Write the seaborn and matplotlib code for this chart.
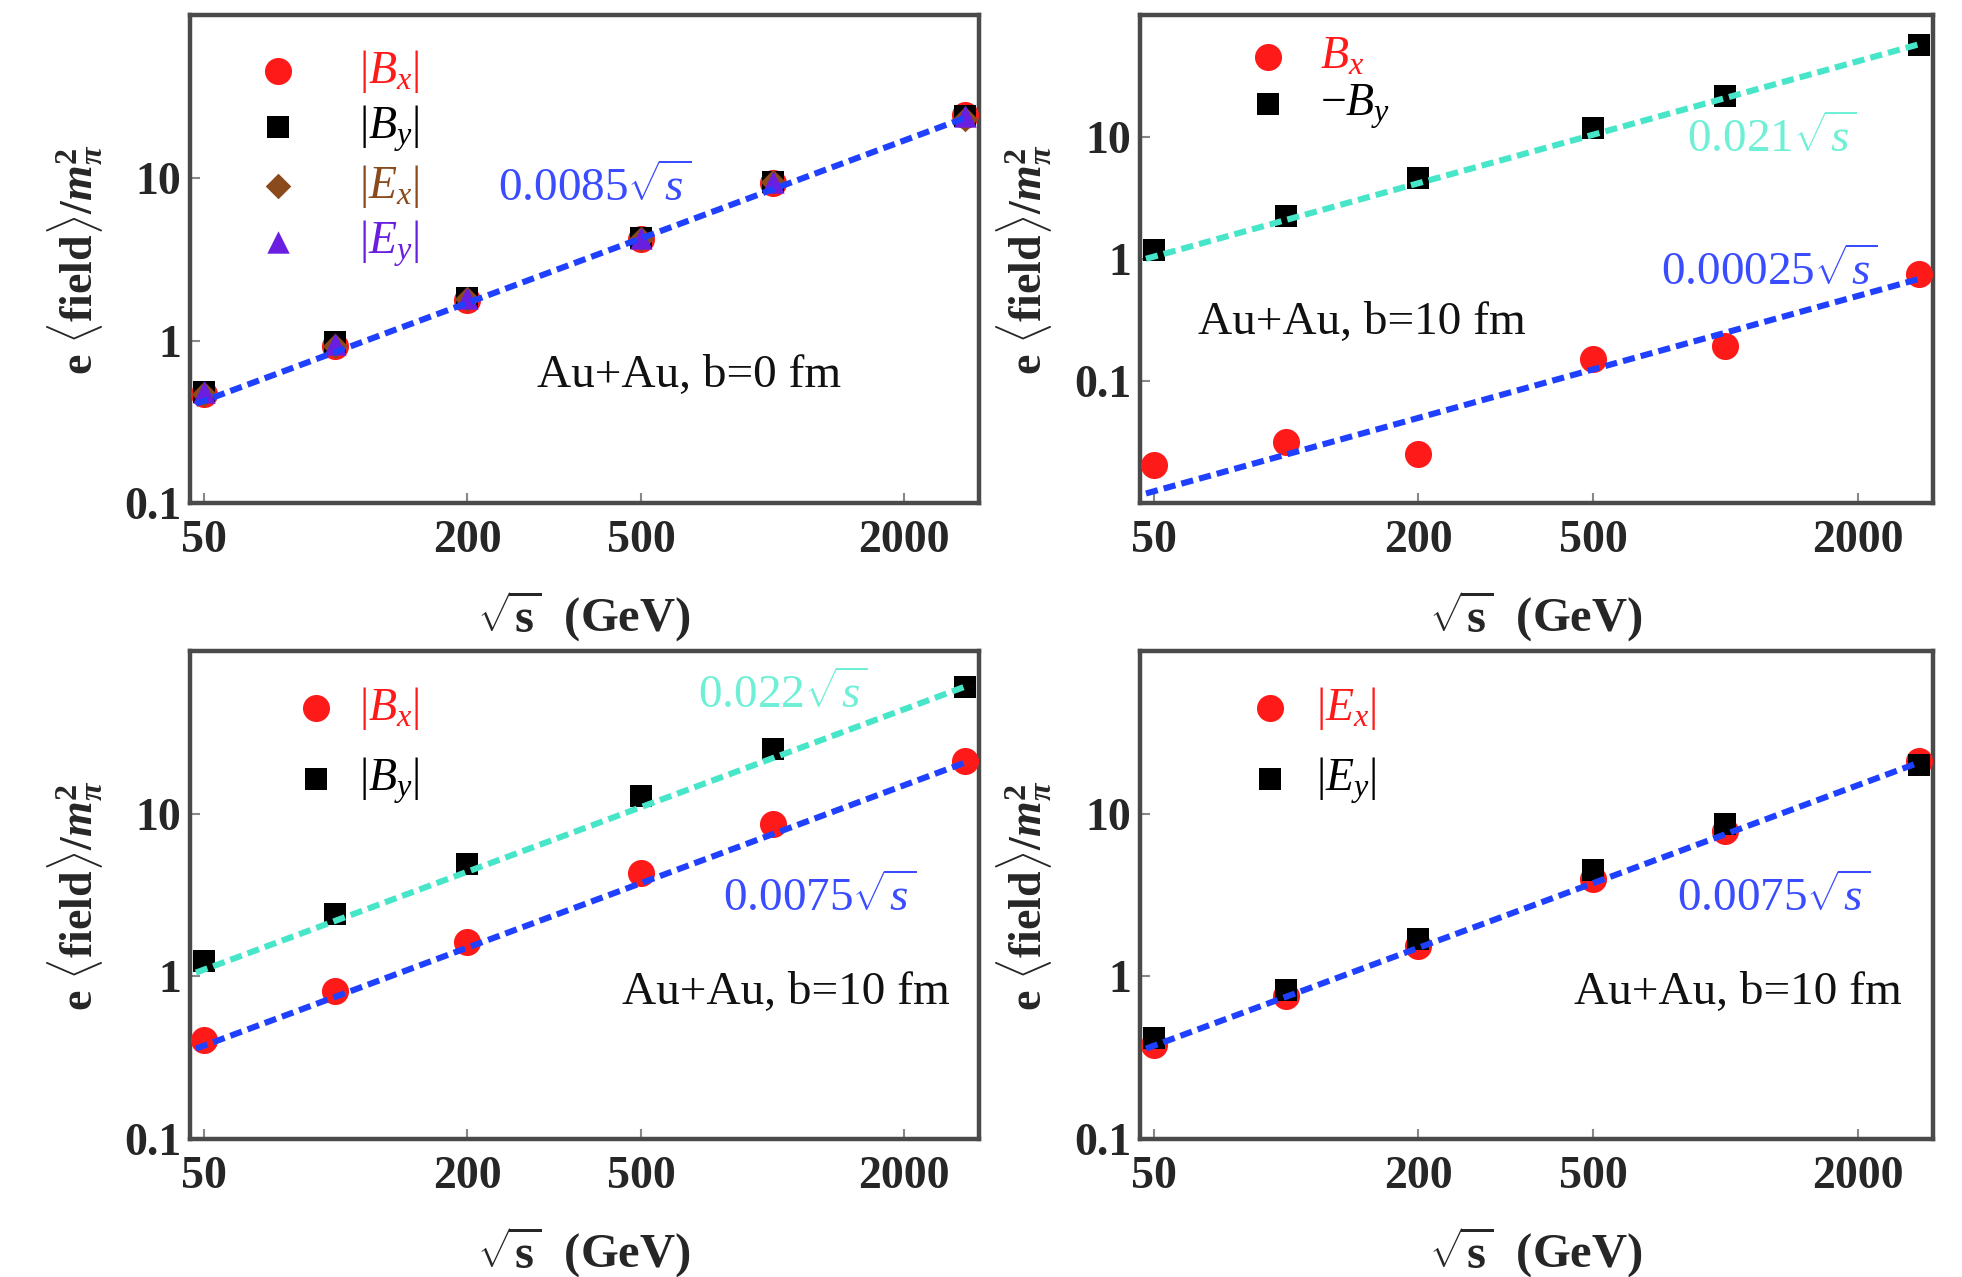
import matplotlib
matplotlib.use("Agg")
import matplotlib.pyplot as plt
import matplotlib.ticker as mticker
import seaborn as sns
import pandas as pd

# collision energies sqrt(s) (GeV)
sqrt_s = [50, 100, 200, 500, 1000, 2760]
fit_range = [48, 2760]

# panel (a) Au+Au b=0
a_bx = [0.47, 0.92, 1.78, 4.2, 9.3, 24.5]
a_by = [0.48, 0.98, 1.82, 4.3, 9.5, 24.0]
a_ex = [0.47, 0.93, 1.80, 4.2, 9.4, 23.0]
a_ey = [0.48, 0.95, 1.82, 4.3, 9.5, 24.0]
a_coef = 0.0085

# panel (b) Au+Au b=10, signed fields
b_bx = [0.0205, 0.032, 0.0254, 0.153, 0.194, 0.75]
b_by = [1.18, 2.28, 4.6, 11.9, 22.0, 57.0]
b_coef_by = 0.021
b_coef_bx = 0.00025

# panel (c) Au+Au b=10, |B|
c_bx = [0.405, 0.81, 1.64, 4.35, 8.7, 21.0]
c_by = [1.24, 2.42, 4.9, 12.8, 25.0, 60.0]
c_coef_by = 0.022
c_coef_bx = 0.0075

# panel (d) Au+Au b=10, |E|
d_ex = [0.38, 0.76, 1.55, 4.0, 7.8, 21.0]
d_ey = [0.42, 0.82, 1.70, 4.5, 8.7, 20.0]
d_coef = 0.0075

x_ticks = [50, 200, 500, 2000]
x_ticklabels = ["50", "200", "500", "2000"]
y_ticks = [0.1, 1, 10]
y_ticklabels = ["0.1", "1", "10"]

RED = "#ff1a1a"
BLACK = "#000000"
BROWN = "#8b4a1c"
PURPLE = "#6a1fe0"
BLUE = "#2040ff"
TURQ = "#48e6c8"
BLUE_TXT = "#3a4cff"
TURQ_TXT = "#6ff0d6"

sns.set_theme(style="white")
plt.rcParams["font.family"] = ["Liberation Serif", "DejaVu Serif"]
plt.rcParams["mathtext.fontset"] = "custom"
plt.rcParams["mathtext.rm"] = "Liberation Serif"
plt.rcParams["mathtext.it"] = "Liberation Serif:italic"
plt.rcParams["mathtext.bf"] = "Liberation Serif:bold"
plt.rcParams["mathtext.bfit"] = "Liberation Serif:italic:bold"

FS = 33
LEG_FS = 33

def fit_line(ax, coef, color):
    # fit is linear in sqrt(s): coef * sqrt(s)
    df = pd.DataFrame({"x": fit_range, "y": [coef * v for v in fit_range]})
    sns.lineplot(data=df, x="x", y="y", ax=ax, color=color, lw=4.4, zorder=4)
    ax.lines[-1].set_dashes([2.0, 1.0])

def points(ax, y, color, marker, size, label):
    sns.scatterplot(x=sqrt_s, y=y, ax=ax, color=color, marker=marker, s=size,
                    linewidth=0, label=label, zorder=3)

def style_axes(ax, ylim):
    ax.set_xscale("log")
    ax.set_yscale("log")
    ax.set_xlim(46.5, 2960)
    ax.set_ylim(*ylim)
    ax.xaxis.set_major_locator(mticker.FixedLocator(x_ticks))
    ax.xaxis.set_major_formatter(mticker.FixedFormatter(x_ticklabels))
    ax.yaxis.set_major_locator(mticker.FixedLocator(y_ticks))
    ax.yaxis.set_major_formatter(mticker.FixedFormatter(y_ticklabels))
    ax.xaxis.set_minor_locator(mticker.NullLocator())
    ax.yaxis.set_minor_locator(mticker.NullLocator())
    ax.tick_params(axis="both", direction="in", length=7, width=1.5, color="#888888",
                   labelsize=FS, bottom=True, left=True)
    ax.tick_params(axis="x", pad=12)
    ax.tick_params(axis="y", pad=6)
    for lab in ax.get_xticklabels() + ax.get_yticklabels():
        lab.set_fontweight("bold")
    for sp in ax.spines.values():
        sp.set_color("#4a4a4a")
        sp.set_linewidth(3.2)
    ax.set_xlabel(r"$\mathbf{\sqrt{s}}$  (GeV)", fontsize=FS + 2, fontweight="bold")
    ax.set_ylabel(r"e $\langle$field$\rangle$/$\mathbfit{m}_{\mathbfit{\pi}}^{\mathbf{2}}$",
                  fontsize=FS, fontweight="bold")
    ax.xaxis.set_label_coords(0.5, -0.175)
    ax.yaxis.set_label_coords(-0.108, 0.5)

def legend(ax, anchor, spacing, textpad, colors):
    ax.legend(loc="upper left", bbox_to_anchor=anchor, frameon=False,
              fontsize=LEG_FS, labelspacing=spacing, handlelength=1.0,
              handletextpad=textpad, borderaxespad=0, labelcolor=colors)

def label(ax, x, y, txt, color, size=FS):
    ax.text(x, y, txt, transform=ax.transAxes, color=color, fontsize=size,
            va="center", ha="left")

fig = plt.figure(figsize=(19.62, 12.77), dpi=100)
ax_a = fig.add_axes([0.0968, 0.606, 0.402, 0.382])
ax_b = fig.add_axes([0.581, 0.606, 0.404, 0.382])
ax_c = fig.add_axes([0.0968, 0.108, 0.402, 0.382])
ax_d = fig.add_axes([0.581, 0.108, 0.404, 0.382])

# (a)
points(ax_a, a_bx, RED, "o", 380, r"$|B_x|$")
points(ax_a, a_by, BLACK, "s", 260, r"$|B_y|$")
points(ax_a, a_ex, BROWN, "D", 170, r"$|E_x|$")
points(ax_a, a_ey, PURPLE, "^", 260, r"$|E_y|$")
fit_line(ax_a, a_coef, BLUE)
style_axes(ax_a, (0.1, 100))
legend(ax_a, (0.059, 0.97), 0.19, 1.28, [RED, BLACK, BROWN, PURPLE])
label(ax_a, 0.39, 0.645, r"$0.0085\sqrt{s}$", BLUE_TXT, FS + 1)
label(ax_a, 0.44, 0.262, "Au+Au, b=0 fm", "#111111", FS + 1)

# (b)
points(ax_b, b_bx, RED, "o", 380, r"$B_x$")
points(ax_b, b_by, BLACK, "s", 260, r"$-B_y$")
fit_line(ax_b, b_coef_by, TURQ)
fit_line(ax_b, b_coef_bx, BLUE)
style_axes(ax_b, (0.01, 100))
legend(ax_b, (0.109, 0.995), 0.1, 0.65, [RED, BLACK])
label(ax_b, 0.69, 0.744, r"$0.021\sqrt{s}$", TURQ_TXT, FS + 1)
label(ax_b, 0.658, 0.472, r"$0.00025\sqrt{s}$", BLUE_TXT, FS + 1)
label(ax_b, 0.073, 0.369, "Au+Au, b=10 fm", "#111111", FS + 1)

# (c)
points(ax_c, c_bx, RED, "o", 380, r"$|B_x|$")
points(ax_c, c_by, BLACK, "s", 260, r"$|B_y|$")
fit_line(ax_c, c_coef_by, TURQ)
fit_line(ax_c, c_coef_bx, BLUE)
style_axes(ax_c, (0.1, 100))
legend(ax_c, (0.108, 0.968), 0.52, 0.43, [RED, BLACK])
label(ax_c, 0.644, 0.908, r"$0.022\sqrt{s}$", TURQ_TXT, FS + 1)
label(ax_c, 0.676, 0.492, r"$0.0075\sqrt{s}$", BLUE_TXT, FS + 1)
label(ax_c, 0.548, 0.3, "Au+Au, b=10 fm", "#111111", FS + 1)

# (d)
points(ax_d, d_ex, RED, "o", 380, r"$|E_x|$")
points(ax_d, d_ey, BLACK, "s", 260, r"$|E_y|$")
fit_line(ax_d, d_coef, BLUE)
style_axes(ax_d, (0.1, 100))
legend(ax_d, (0.112, 0.968), 0.52, 0.51, [RED, BLACK])
label(ax_d, 0.677, 0.492, r"$0.0075\sqrt{s}$", BLUE_TXT, FS + 1)
label(ax_d, 0.547, 0.3, "Au+Au, b=10 fm", "#111111", FS + 1)

fig.savefig("out.png", dpi=100, facecolor="white")
